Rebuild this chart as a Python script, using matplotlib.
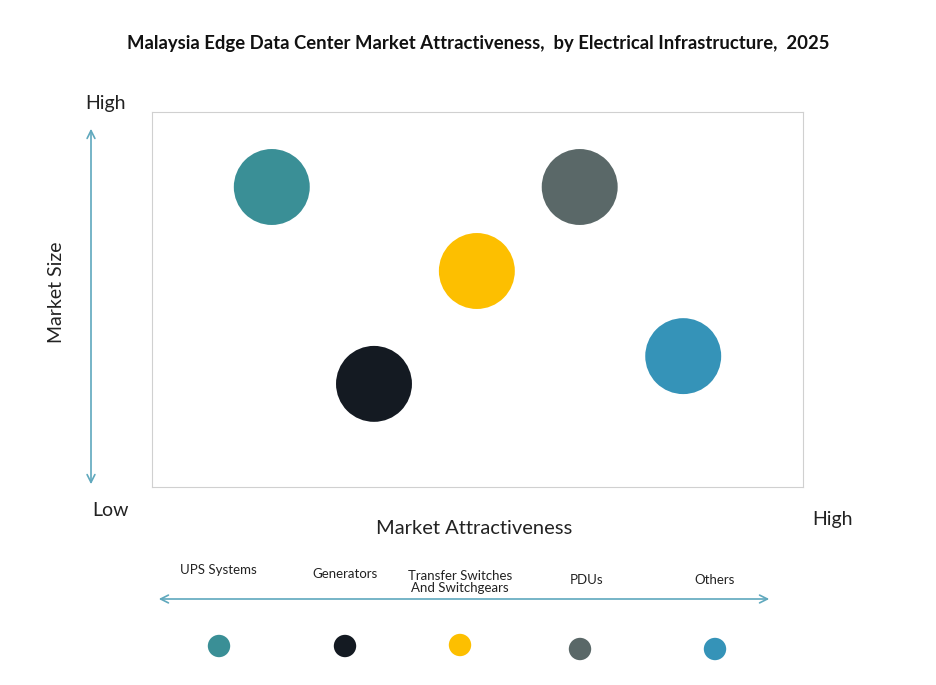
import matplotlib.pyplot as plt

plt.rcParams['font.family'] = ['Lato', 'DejaVu Sans']

segments = ["UPS Systems", "Generators", "Transfer Switches\nAnd Switchgears", "PDUs", "Others"]
attractiveness = [1.84, 3.41, 4.99, 6.57, 8.16]
market_size = [8.0, 2.75, 5.76, 8.0, 3.49]
colors = ["#3a8f96", "#141a22", "#fdbf00", "#5a6868", "#3593b8"]
legend_x = [219, 345, 460, 580, 715]
legend_dot_y = [646, 646, 645, 649, 649]
label_x = [218, 345, 460, 587, 715]
label_y = [570, 574, 582, 580, 580]

W, H = 937, 685
fig = plt.figure(figsize=(W / 100, H / 100), dpi=100)

ax = fig.add_axes([152 / W, 1 - 487 / H, 651 / W, 375 / H])
ax.scatter(attractiveness, market_size, s=2990, c=colors, edgecolors="none")
ax.set_xlim(0, 10)
ax.set_ylim(0, 10)
ax.set_xticks([])
ax.set_yticks([])
for sp in ax.spines.values():
    sp.set_color("#d0d0d0")
    sp.set_linewidth(0.8)

# overlay in pixel coords
ov = fig.add_axes([0, 0, 1, 1])
ov.set_xlim(0, W)
ov.set_ylim(H, 0)
ov.axis("off")

ov.text(478, 43, "Malaysia Edge Data Center Market Attractiveness,  by Electrical Infrastructure,  2025",
        ha="center", va="center", fontsize=13.3, fontweight="bold", color="#111111")

arrow_kw = dict(arrowstyle="<->", color="#5fa8bd", lw=1.2, mutation_scale=14)
ov.annotate("", xy=(91, 126), xytext=(91, 487), arrowprops=arrow_kw)
ov.annotate("", xy=(156, 599), xytext=(772, 599), arrowprops=arrow_kw)

ov.text(106, 103, "High", ha="center", va="center", fontsize=14, color="#222222")
ov.text(111, 510, "Low", ha="center", va="center", fontsize=14, color="#222222")
ov.text(57, 292, "Market Size", ha="center", va="center", fontsize=14, rotation=90, color="#222222")
ov.text(474, 528, "Market Attractiveness", ha="center", va="center", fontsize=14.5, color="#222222")
ov.text(833, 519, "High", ha="center", va="center", fontsize=14, color="#222222")

for name, lx, ly, dx, dy, c in zip(segments, label_x, label_y, legend_x, legend_dot_y, colors):
    ov.text(lx, ly, name, ha="center", va="center", fontsize=9.5, color="#222222", linespacing=1.1)
    ov.scatter([dx], [dy], s=260, c=[c], edgecolors="none")

fig.savefig("out.png", dpi=100)
